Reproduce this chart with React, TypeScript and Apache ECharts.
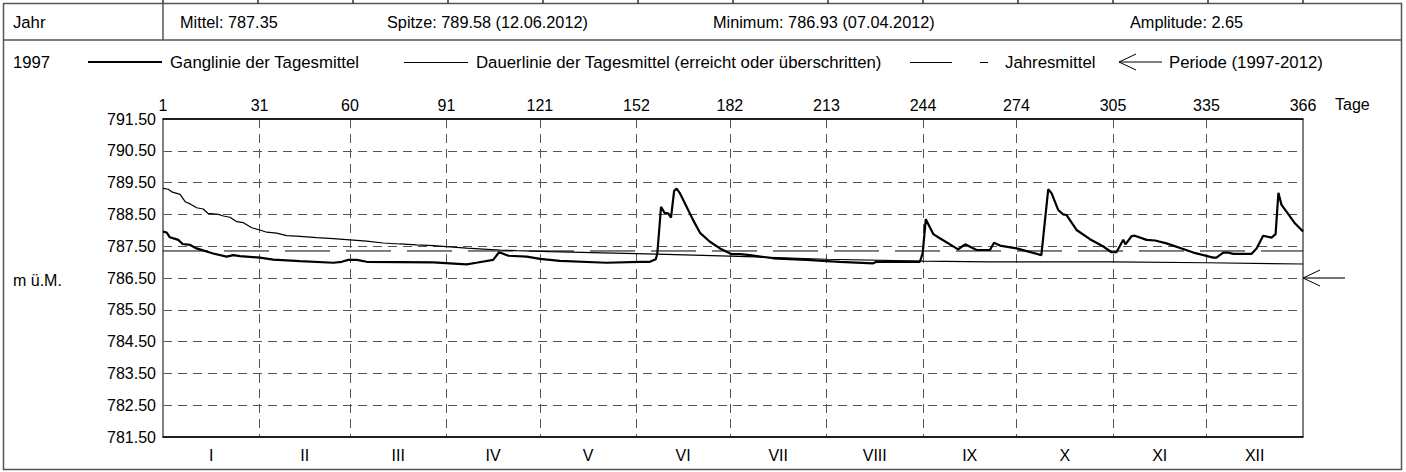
import React, { useEffect, useRef } from "react";
import * as echarts from "echarts";

// ---- data ----
const dayTickValues = [31, 60, 91, 121, 152, 182, 213, 244, 274, 305, 335];
const dayLabelValues = [0, 31, 60, 91, 121, 152, 182, 213, 244, 274, 305, 335, 366];
const dayLabelTexts = ["1", "31", "60", "91", "121", "152", "182", "213", "244", "274", "305", "335", "366"];
const monthMidValues = [15.5, 45.5, 75.5, 106, 136.5, 167, 197.5, 228.5, 259, 289.5, 320, 350.5];
const monthNames = ["I", "II", "III", "IV", "V", "VI", "VII", "VIII", "IX", "X", "XI", "XII"];
const yLabelValues = [781.5, 782.5, 783.5, 784.5, 785.5, 786.5, 787.5, 788.5, 789.5, 790.5, 791.5];
const yGridValues = [782.5, 783.5, 784.5, 785.5, 786.5, 787.5, 788.5, 789.5, 790.5];

// Ganglinie der Tagesmittel (day offset, level)
const gangDays = [0, 1.2, 2.2, 3.9, 4.9, 6.3, 8.7, 10.8, 16.1, 20.4, 22.6, 24.7, 31.1, 35.4, 44, 54.7, 57.4, 59.5, 62.2, 65.4, 76, 86.8, 92.1, 97.5, 100.6, 106, 107.9, 110.9, 116.8, 121, 127.4, 142.4, 153, 156.3, 158.2, 158.7, 159.9, 161, 162.2, 163.1, 164.1, 164.9, 166, 168.1, 170.2, 172.4, 175.6, 178.8, 182.6, 185.2, 188.4, 195.9, 206.6, 217.3, 228, 229.1, 243, 243.9, 244.9, 247.3, 249.4, 255.3, 257.5, 261.2, 265.5, 266.8, 268.7, 274, 282, 284.2, 285.3, 287.4, 289, 290.1, 293.3, 297.6, 301.9, 304.5, 306.1, 308.3, 309, 311, 312, 315.8, 318.5, 322.2, 330.8, 337.2, 338.2, 340.4, 342, 343.6, 349.5, 351.1, 353.2, 355.9, 357.2, 358.1, 359.1, 360.7, 363.4, 366];
const gangValues = [787.96, 787.93, 787.78, 787.73, 787.7, 787.57, 787.54, 787.43, 787.27, 787.17, 787.22, 787.19, 787.14, 787.08, 787.03, 786.98, 787.01, 787.07, 787.07, 787.01, 787.0, 786.99, 786.96, 786.93, 786.98, 787.07, 787.31, 787.2, 787.17, 787.1, 787.04, 786.98, 787.01, 787.01, 787.09, 787.27, 788.74, 788.55, 788.53, 788.4, 789.24, 789.31, 789.16, 788.74, 788.32, 787.92, 787.64, 787.43, 787.25, 787.25, 787.22, 787.12, 787.07, 787.01, 786.96, 787.01, 787.01, 787.28, 788.35, 787.88, 787.75, 787.4, 787.56, 787.38, 787.38, 787.61, 787.52, 787.43, 787.22, 789.29, 789.16, 788.64, 788.5, 788.48, 788.01, 787.72, 787.49, 787.31, 787.31, 787.7, 787.56, 787.82, 787.83, 787.7, 787.68, 787.59, 787.3, 787.14, 787.14, 787.3, 787.3, 787.26, 787.26, 787.43, 787.83, 787.77, 787.88, 789.18, 788.8, 788.59, 788.22, 787.96];

// Dauerlinie der Tagesmittel (day offset, level)
const dauerDays = [0, 1.7, 2.8, 5.5, 7.1, 8.7, 10.8, 12.9, 14.5, 17.8, 19.4, 21.5, 23.7, 25.8, 28.5, 31.1, 33.3, 36.5, 39.7, 44, 49.3, 54.7, 60, 65.4, 70.7, 76, 81.4, 86.8, 92.1, 97.5, 102.8, 108.2, 113.5, 124.2, 158.5, 182, 213, 244, 265.5, 305, 335, 366];
const dauerValues = [789.32, 789.29, 789.21, 789.13, 788.9, 788.83, 788.71, 788.67, 788.53, 788.5, 788.45, 788.41, 788.27, 788.24, 788.08, 788.01, 787.94, 787.91, 787.83, 787.81, 787.77, 787.74, 787.7, 787.66, 787.6, 787.57, 787.54, 787.52, 787.48, 787.44, 787.41, 787.38, 787.36, 787.33, 787.25, 787.19, 787.09, 787.03, 787.01, 787.01, 786.98, 786.94];

const jahresmittel = 787.35;
const periodeMittel = 786.5;

const headerTexts = ["Mittel: 787.35", "Spitze: 789.58 (12.06.2012)", "Minimum: 786.93 (07.04.2012)", "Amplitude: 2.65"];
const legendTexts = ["Ganglinie der Tagesmittel", "Dauerlinie der Tagesmittel (erreicht oder überschritten)", "Jahresmittel", "Periode (1997-2012)"];

const FONT = "'Liberation Sans', Arial, sans-serif";

export default function App() {
  const ref = useRef<HTMLDivElement>(null);
  useEffect(() => {
    document.body.style.margin = "0";
    const chart = echarts.init(ref.current!, null, { renderer: "svg" });
    const txt = (text: string, x: number, y: number, size = 16, align = "left") => ({
      type: "text",
      silent: true,
      style: { text, x, y, font: `${size}px ${FONT}`, fill: "#000", textAlign: align, textVerticalAlign: "middle" },
    });
    const ln = (x1: number, y1: number, x2: number, y2: number, w = 1, color = "#000") => ({
      type: "line",
      silent: true,
      shape: { x1, y1, x2, y2 },
      style: { stroke: color, lineWidth: w },
    });
    const sliverXs = [163, 258, 353, 448, 543, 638, 733, 828, 923, 1018, 1113, 1208, 1303];

    const gridLine = { show: true, lineStyle: { color: "#555", width: 1, type: [9, 6] } };
    const axisFont = { color: "#000", fontSize: 16, fontFamily: FONT };

    chart.setOption({
      animation: false,
      grid: { left: 163, top: 119, width: 1140, height: 318, show: true, borderColor: "#000", borderWidth: 1, containLabel: false },
      xAxis: [
        {
          type: "value",
          position: "top",
          min: 0,
          max: 366,
          axisLine: { show: true, lineStyle: { color: "#000", width: 1.5 } },
          axisTick: { show: false, customValues: dayTickValues },
          axisLabel: {
            customValues: dayLabelValues,
            formatter: (v: number) => dayLabelTexts[dayLabelValues.indexOf(v)] ?? "",
            ...axisFont,
            margin: 6,
          },
          splitLine: gridLine,
        },
        {
          type: "value",
          position: "bottom",
          min: 0,
          max: 366,
          axisLine: { show: true, lineStyle: { color: "#000", width: 1.5 } },
          axisTick: { show: false, customValues: monthMidValues },
          axisLabel: {
            customValues: monthMidValues,
            formatter: (v: number) => monthNames[monthMidValues.indexOf(v)] ?? "",
            ...axisFont,
            margin: 10,
          },
          splitLine: { show: false },
        },
      ],
      yAxis: {
        type: "value",
        min: 781.5,
        max: 791.5,
        axisLine: { show: true, lineStyle: { color: "#808080", width: 1.5 } },
        axisTick: { show: false, customValues: yGridValues },
        axisLabel: {
          customValues: yLabelValues,
          formatter: (v: number) => v.toFixed(2),
          ...axisFont,
          margin: 7,
        },
        splitLine: gridLine,
      },
      series: [
        {
          name: "Jahresmittel",
          type: "line",
          xAxisIndex: 0,
          symbol: "none",
          data: [[0, jahresmittel], [366, jahresmittel]],
          lineStyle: { color: "#000", width: 1, type: [45, 16] },
          z: 3,
        },
        {
          name: "Dauerlinie der Tagesmittel",
          type: "line",
          xAxisIndex: 0,
          symbol: "none",
          data: dauerDays.map((d, i) => [d, dauerValues[i]]),
          lineStyle: { color: "#000", width: 1.2 },
          z: 4,
        },
        {
          name: "Ganglinie der Tagesmittel",
          type: "line",
          xAxisIndex: 0,
          symbol: "none",
          data: gangDays.map((d, i) => [d, gangValues[i]]),
          lineStyle: { color: "#000", width: 2.2 },
          z: 5,
        },
      ],
      graphic: [
        // frame
        { type: "rect", silent: true, shape: { x: 3.5, y: 3.5, width: 1398, height: 466 }, style: { fill: "none", stroke: "#555", lineWidth: 1.5 } },
        ...sliverXs.map((x) => ln(x, 0, x, 3.5, 1.5, "#333")),
        ln(3.5, 40, 1401.5, 40, 1.5, "#555"),
        ln(163, 3.5, 163, 40, 1.5, "#555"),
        // header
        txt("Jahr", 13, 22, 16.7),
        txt(headerTexts[0], 180, 22, 16.3),
        txt(headerTexts[1], 387, 22, 16.3),
        txt(headerTexts[2], 713, 22, 16.3),
        txt(headerTexts[3], 1130, 22, 16.3),
        // legend
        txt("1997", 13, 62, 16.7),
        ln(88, 62, 162, 62, 2.2),
        txt(legendTexts[0], 170, 62, 16.8),
        ln(404, 62.5, 468, 62.5, 1.2),
        txt(legendTexts[1], 476, 62, 16.8),
        ln(910, 62.5, 952, 62.5, 1),
        ln(980, 62.5, 988, 62.5, 1),
        txt(legendTexts[2], 1005, 62, 16.8),
        ln(1119, 62, 1162, 62, 1),
        ln(1119, 62, 1136, 54, 1),
        ln(1119, 62, 1136, 70, 1),
        txt(legendTexts[3], 1169, 62, 16.8),
        // axis captions
        txt("m ü.M.", 13, 280, 16),
        txt("Tage", 1335, 104, 16),
      ],
    });

    const [ax, ay] = chart.convertToPixel({ gridIndex: 0 }, [366, periodeMittel]) as number[];
    chart.setOption({
      graphic: [
        ln(ax, ay, ax + 42, ay, 1.5, "#444"),
        ln(ax, ay, ax + 17, ay - 8, 1, "#000"),
        ln(ax, ay, ax + 17, ay + 8, 1, "#000"),
      ].map((g, i) => ({ ...g, id: "arrow" + i })),
    });

    return () => chart.dispose();
  }, []);
  return <div ref={ref} style={{ width: 1406, height: 472 }} />;
}
